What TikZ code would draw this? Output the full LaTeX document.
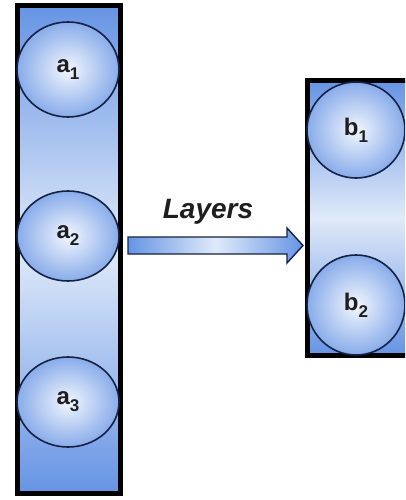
\documentclass[tikz,border=0pt]{standalone}
\usepackage{fontspec}
\setmainfont{Liberation Sans}
\usepackage{tikz}
\usetikzlibrary{shapes.geometric}

\definecolor{rectblue}{RGB}{102,148,228}
\definecolor{rectlight}{RGB}{224,234,249}
\definecolor{ballblue}{RGB}{136,172,234}
\definecolor{balllight}{RGB}{242,246,253}
\definecolor{rim}{RGB}{22,34,68}
\definecolor{ink}{RGB}{30,30,30}

\newcommand{\unitlbl}[2]{{\fontsize{24}{24}\selectfont\bfseries #1}\raisebox{-7pt}{\fontsize{17}{17}\selectfont\bfseries #2}}

\begin{document}
\begin{tikzpicture}[x=1pt,y=-1pt,
  layer/.style={shape=rectangle,draw=black,line width=5pt,top color=rectblue,bottom color=rectblue,middle color=rectlight,inner sep=0pt},
  unit/.style={shape=ellipse,draw=rim,line width=1.6pt,shading=radial,inner color=balllight,outer color=ballblue,text=ink,inner sep=0pt}]
\clip (0,0) rectangle (405,500);
\node[layer,minimum width=103pt,minimum height=488pt] (LA) at (69,249.75) {};
\node[layer,minimum width=103pt,minimum height=274pt] (LB) at (358.75,218) {};
\node[unit,minimum width=102pt,minimum height=95pt] (a1) at (68,69.5) {\unitlbl{a}{1}};
\node[unit,minimum width=102pt,minimum height=90pt] (a2) at (68,236) {\unitlbl{a}{2}};
\node[unit,minimum width=102pt,minimum height=90pt] (a3) at (68,402) {\unitlbl{a}{3}};
\node[unit,minimum width=98pt,minimum height=96pt] (b1) at (356,130) {\unitlbl{b}{1}};
\node[unit,minimum width=98pt,minimum height=100pt] (b2) at (356,305) {\unitlbl{b}{2}};
\node[anchor=base,text=ink,font=\fontsize{28}{28}\selectfont\bfseries\itshape] (title) at (208,218) {Layers};
\draw[draw=rim,line width=1.4pt,left color=rectblue,right color=rectblue,middle color=rectlight]
  (128,237) -- (287,237) -- (287,228) -- (303,245.5) -- (287,263) -- (287,254) -- (128,254) -- cycle;
\end{tikzpicture}
\end{document}
